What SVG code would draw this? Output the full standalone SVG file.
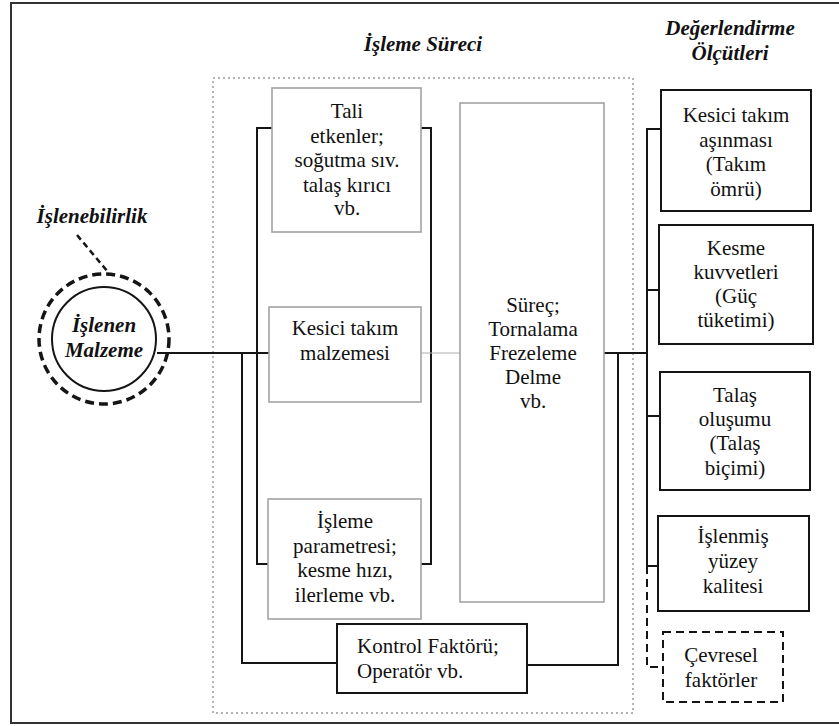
<svg xmlns="http://www.w3.org/2000/svg" width="839" height="726" viewBox="0 0 839 726">
<style>
  text { font-family: "Liberation Serif", "Times New Roman", serif; font-size: 21px; fill: #111; }
  .c { text-anchor: middle; }
  .bi { font-weight: bold; font-style: italic; }
  .gbox { fill: #fff; stroke: #a3a3a3; stroke-width: 1.6; }
  .kbox { fill: #fff; stroke: #151515; stroke-width: 2; }
  .ln { fill: none; stroke: #151515; stroke-width: 2; }
  .thin { fill: none; stroke: #b0b0b0; stroke-width: 1.2; }
  .dash { fill: none; stroke: #151515; stroke-width: 2; stroke-dasharray: 8 5; }
</style>
<rect width="839" height="726" fill="#fff"/>
<rect id="frame" x="11" y="3" width="840" height="720" fill="none" stroke="#333" stroke-width="2"/>
<rect id="process-area" x="213" y="78" width="420" height="635" fill="none" stroke="#9a9a9a" stroke-width="1.5" stroke-dasharray="2 3"/>
<text class="c bi" x="423" y="51">İşleme Süreci</text>
<text class="c bi" x="730" y="35">Değerlendirme</text>
<text class="c bi" x="730" y="60">Ölçütleri</text>

<g id="connectors">
  <path class="ln" d="M272 128 H257 V564 H268"/>
  <path class="ln" d="M421 128 H431 V564 H421"/>
  <path class="ln" d="M157 353 H269" stroke-width="1.6"/>
  <path class="ln" d="M242 353 V663 H337"/>
  <path class="thin" d="M421 353 H460"/>
  <path class="ln" d="M604 353 H647"/>
  <path class="ln" d="M618 353 V665 H527"/>
  <path class="ln" d="M661 129 H647 V566 H658"/>
  <path class="ln" d="M647 290 H659"/>
  <path class="ln" d="M647 416 H660"/>
  <path class="dash" d="M647 566 V667 H663"/>
  <path fill="none" stroke="#151515" stroke-width="2.5" stroke-dasharray="6 4" d="M77 235 L108 272"/>
</g>

<g id="islenebilirlik">
  <text class="c bi" x="92" y="223">İşlenebilirlik</text>
  <circle cx="104" cy="339" r="65" fill="none" stroke="#151515" stroke-width="3.5" stroke-dasharray="9 5"/>
</g>
<g id="islenen-malzeme">
  <circle cx="104" cy="339" r="52" fill="#fff" stroke="#151515" stroke-width="2"/>
  <text class="c bi" x="104" y="332">İşlenen</text>
  <text class="c bi" x="104" y="357">Malzeme</text>
</g>

<g id="tali-etkenler">
  <rect class="gbox" x="272" y="88" width="149" height="144"/>
  <text class="c" x="347" y="118">Tali</text>
  <text class="c" x="347" y="143">etkenler;</text>
  <text class="c" x="347" y="167">soğutma sıv.</text>
  <text class="c" x="347" y="192">talaş kırıcı</text>
  <text class="c" x="347" y="215">vb.</text>
</g>
<g id="kesici-takim-malzemesi">
  <rect class="gbox" x="269" y="307" width="152" height="95"/>
  <text class="c" x="345" y="335">Kesici takım</text>
  <text class="c" x="345" y="360">malzemesi</text>
</g>
<g id="isleme-parametresi">
  <rect class="gbox" x="268" y="499" width="153" height="120"/>
  <text class="c" x="345" y="528">İşleme</text>
  <text class="c" x="345" y="553">parametresi;</text>
  <text class="c" x="345" y="577">kesme hızı,</text>
  <text class="c" x="345" y="602">ilerleme vb.</text>
</g>
<g id="surec">
  <rect class="gbox" x="460" y="103" width="144" height="499"/>
  <text class="c" x="533" y="312">Süreç;</text>
  <text class="c" x="533" y="336">Tornalama</text>
  <text class="c" x="533" y="360">Frezeleme</text>
  <text class="c" x="533" y="384">Delme</text>
  <text class="c" x="533" y="408">vb.</text>
</g>
<g id="kontrol-faktoru">
  <rect class="kbox" x="337" y="624" width="190" height="69"/>
  <text x="357" y="653">Kontrol Faktörü;</text>
  <text x="357" y="678">Operatör vb.</text>
</g>

<g id="takim-asinmasi">
  <rect class="kbox" x="661" y="90" width="150" height="121"/>
  <text class="c" x="736" y="122">Kesici takım</text>
  <text class="c" x="736" y="147">aşınması</text>
  <text class="c" x="736" y="171">(Takım</text>
  <text class="c" x="736" y="196">ömrü)</text>
</g>
<g id="kesme-kuvvetleri">
  <rect class="kbox" x="659" y="225" width="154" height="119"/>
  <text class="c" x="736" y="255">Kesme</text>
  <text class="c" x="736" y="279">kuvvetleri</text>
  <text class="c" x="736" y="303">(Güç</text>
  <text class="c" x="736" y="327">tüketimi)</text>
</g>
<g id="talas-olusumu">
  <rect class="kbox" x="660" y="372" width="150" height="118"/>
  <text class="c" x="735" y="402">Talaş</text>
  <text class="c" x="735" y="426">oluşumu</text>
  <text class="c" x="735" y="450">(Talaş</text>
  <text class="c" x="735" y="475">biçimi)</text>
</g>
<g id="yuzey-kalitesi">
  <rect class="kbox" x="658" y="516" width="151" height="95"/>
  <text class="c" x="733" y="543">İşlenmiş</text>
  <text class="c" x="733" y="568">yüzey</text>
  <text class="c" x="733" y="593">kalitesi</text>
</g>
<g id="cevresel-faktorler">
  <rect class="dash" x="663" y="632" width="120" height="70"/>
  <text class="c" x="721" y="662">Çevresel</text>
  <text class="c" x="721" y="687">faktörler</text>
</g>
</svg>
